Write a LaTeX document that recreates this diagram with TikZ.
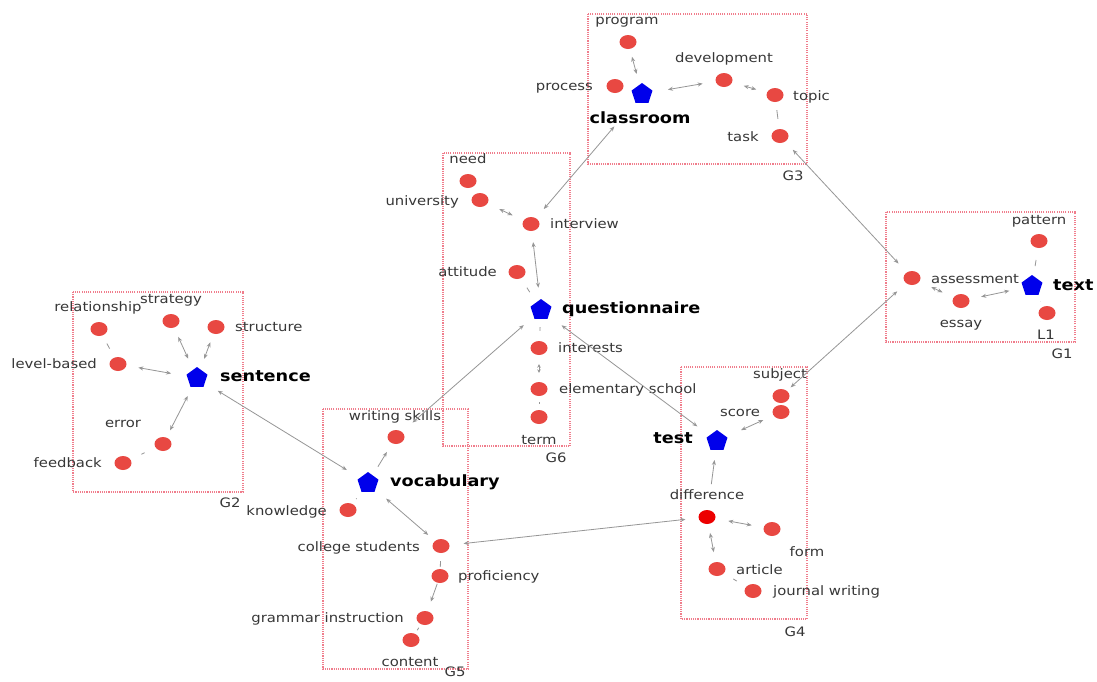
\documentclass[tikz,border=0pt]{standalone}
\usepackage{fontspec}
\setmainfont[FakeStretch=1.14]{DejaVu Sans}
\usetikzlibrary{shapes.geometric,arrows.meta}

\definecolor{dotred}{RGB}{232,72,66}
\definecolor{hotred}{RGB}{236,0,0}
\definecolor{hubblue}{RGB}{0,0,235}
\definecolor{boxred}{RGB}{240,125,140}
\definecolor{edgegray}{RGB}{150,150,150}
\definecolor{labgray}{RGB}{55,55,55}

\tikzset{
  dot/.style={ellipse, fill=dotred, minimum width=17pt, minimum height=14pt, inner sep=0pt},
  hotdot/.style={dot, fill=hotred},
  hub/.style={regular polygon, regular polygon sides=5, fill=hubblue, minimum size=22pt, inner sep=0pt},
  lab/.style={inner sep=0pt, text=labgray, text height=8.5pt, text depth=4.5pt, yshift=-2.5pt,
              font=\fontsize{13}{15}\selectfont},
  hublab/.style={inner sep=0pt, text=black, text height=9.5pt, text depth=5pt, yshift=-2.5pt,
              font=\fontsize{15.5}{18}\selectfont\bfseries},
  grp/.style={draw=boxred, line width=1.2pt, dash pattern=on 1.1pt off 1.1pt},
  ed/.style={draw=edgegray, line width=0.8pt},
  dbl/.style={ed, {Stealth[length=5pt,width=4pt]}-{Stealth[length=5pt,width=4pt]}},
  fwd/.style={ed, -{Stealth[length=5pt,width=4pt]}},
  tick/.style={ed},
}

\begin{document}
\begin{tikzpicture}[x=1pt,y=-1pt]
\useasboundingbox (0,0) rectangle (1097,681);
\clip (0,0) rectangle (1097,681);
\fill[white] (0,0) rectangle (1097,681);

% cluster frames
\draw[grp] (588,14) rectangle (807,164);
\draw[grp] (443,153) rectangle (570,446);
\draw[grp] (73,292) rectangle (243,492);
\draw[grp] (323,409) rectangle (468,669);
\draw[grp] (681,367) rectangle (807,619);
\draw[grp] (886,212) rectangle (1075,342);

\node[lab] (g3) at (793,176) {G3};
\node[lab] (g6) at (556,458) {G6};
\node[lab] (g2) at (230,503) {G2};
\node[lab] (g5) at (455,672) {G5};
\node[lab] (g4) at (795,632) {G4};
\node[lab] (g1) at (1062,354) {G1};

% G3
\node[dot] (program) at (628,42) {};
\node[dot] (process) at (615,86) {};
\node[hub] (classroom) at (642,94) {};
\node[dot] (development) at (724,80) {};
\node[dot] (topic) at (775,95) {};
\node[dot] (task) at (780,136) {};
\node[lab] (program-l) at (627,20) {program};
\node[lab, anchor=east] (process-l) at (593,86) {process};
\node[hublab] (classroom-l) at (640,119) {classroom};
\node[lab] (development-l) at (724,58) {development};
\node[lab, anchor=west] (topic-l) at (793,96) {topic};
\node[lab] (task-l) at (743,137) {task};

% G6
\node[dot] (need) at (468,181) {};
\node[dot] (university) at (480,200) {};
\node[dot] (interview) at (531,224) {};
\node[dot] (attitude) at (517,272) {};
\node[hub] (questionnaire) at (541,310) {};
\node[dot] (interests) at (539,348) {};
\node[dot] (elementary) at (539,389) {};
\node[dot] (term) at (539,417) {};
\node[lab] (need-l) at (468,159) {need};
\node[lab, anchor=east] (university-l) at (459,201) {university};
\node[lab, anchor=west] (interview-l) at (550,224) {interview};
\node[lab, anchor=east] (attitude-l) at (497,272) {attitude};
\node[hublab, anchor=west] (questionnaire-l) at (562,309) {questionnaire};
\node[lab, anchor=west] (interests-l) at (558,348) {interests};
\node[lab, anchor=west] (elementary-l) at (559,389) {elementary school};
\node[lab] (term-l) at (539,440) {term};

% G2
\node[dot] (relationship) at (99,329) {};
\node[dot] (strategy) at (171,321) {};
\node[dot] (structure) at (216,327) {};
\node[dot] (levelbased) at (118,364) {};
\node[hub] (sentence) at (197,378) {};
\node[dot] (error) at (163,444) {};
\node[dot] (feedback) at (123,463) {};
\node[lab] (relationship-l) at (98,307) {relationship};
\node[lab] (strategy-l) at (171,299) {strategy};
\node[lab, anchor=west] (structure-l) at (235,327) {structure};
\node[lab, anchor=east] (levelbased-l) at (97,364) {level-based};
\node[hublab, anchor=west] (sentence-l) at (220,377) {sentence};
\node[lab] (error-l) at (123,423) {error};
\node[lab, anchor=east] (feedback-l) at (102,463) {feedback};

% G5
\node[dot] (writing) at (396,437) {};
\node[hub] (vocabulary) at (368,483) {};
\node[dot] (knowledge) at (348,510) {};
\node[dot] (college) at (441,546) {};
\node[dot] (proficiency) at (440,576) {};
\node[dot] (grammar) at (425,618) {};
\node[dot] (content) at (411,640) {};
\node[lab] (writing-l) at (395,416) {writing skills};
\node[hublab, anchor=west] (vocabulary-l) at (390,482) {vocabulary};
\node[lab, anchor=east] (knowledge-l) at (327,511) {knowledge};
\node[lab, anchor=east] (college-l) at (420,547) {college students};
\node[lab, anchor=west] (proficiency-l) at (458,576) {proficiency};
\node[lab, anchor=east] (grammar-l) at (404,618) {grammar instruction};
\node[lab] (content-l) at (410,662) {content};

% G4
\node[dot] (subject) at (781,396) {};
\node[dot] (score) at (781,412) {};
\node[hub] (test) at (717,441) {};
\node[hotdot] (difference) at (707,517) {};
\node[dot] (form) at (772,529) {};
\node[dot] (article) at (717,569) {};
\node[dot] (journal) at (753,591) {};
\node[lab] (subject-l) at (780,374) {subject};
\node[lab] (score-l) at (740,412) {score};
\node[hublab, anchor=east] (test-l) at (693,439) {test};
\node[lab] (difference-l) at (707,495) {difference};
\node[lab] (form-l) at (807,552) {form};
\node[lab, anchor=west] (article-l) at (736,570) {article};
\node[lab, anchor=west] (journal-l) at (773,591) {journal writing};

% G1
\node[dot] (pattern) at (1039,241) {};
\node[dot] (assessment) at (912,278) {};
\node[dot] (essay) at (961,301) {};
\node[hub] (text) at (1032,286) {};
\node[dot] (L1) at (1047,313) {};
\node[lab] (pattern-l) at (1039,220) {pattern};
\node[lab, anchor=west] (assessment-l) at (931,279) {assessment};
\node[lab] (essay-l) at (961,323) {essay};
\node[hublab, anchor=west] (text-l) at (1053,286) {text};
\node[lab] (L1-l) at (1046,335) {L1};

% links inside G3
\draw[dbl, shorten <=8pt, shorten >=11pt] (program) -- (classroom);
\draw[dbl, shorten <=16pt, shorten >=13pt] (classroom) -- (development);
\draw[dbl, shorten <=12pt, shorten >=11pt] (development) -- (topic);
\draw[tick, shorten <=8pt, shorten >=10pt] (topic) -- (task);

% links inside G6
\draw[dbl, shorten <=13pt, shorten >=12pt] (university) -- (interview);
\draw[dbl, shorten <=11pt, shorten >=12pt] (interview) -- (questionnaire);
\draw[tick, shorten <=11pt, shorten >=12pt] (attitude) -- (questionnaire);
\draw[tick, shorten <=8pt, shorten >=10pt] (questionnaire) -- (interests);
\draw[ed, {Stealth[length=3.5pt,width=3.5pt]}-{Stealth[length=3.5pt,width=3.5pt]}, shorten <=9pt, shorten >=9pt] (interests) -- (elementary);
\draw[tick, shorten <=6pt, shorten >=6pt] (elementary) -- (term);

% links inside G2
\draw[dbl, shorten <=10pt, shorten >=12pt] (strategy) -- (sentence);
\draw[dbl, shorten <=9pt, shorten >=11pt] (structure) -- (sentence);
\draw[dbl, shorten <=12pt, shorten >=16pt] (levelbased) -- (sentence);
\draw[tick, shorten <=9pt, shorten >=10pt] (relationship) -- (levelbased);
\draw[dbl, shorten <=8pt, shorten >=10pt] (error) -- (sentence);
\draw[tick, shorten <=12pt, shorten >=12pt] (feedback) -- (error);

% links inside G5
\draw[fwd, shorten <=10pt, shorten >=10pt] (vocabulary) -- (writing);
\draw[tick, shorten <=8pt, shorten >=6pt] (vocabulary) -- (knowledge);
\draw[dbl, shorten <=14pt, shorten >=9pt] (vocabulary) -- (college);
\draw[tick, shorten <=8pt, shorten >=2pt] (college) -- (proficiency);
\draw[fwd, shorten <=1pt, shorten >=10pt] (proficiency) -- (grammar);
\draw[tick, shorten <=4pt, shorten >=4pt] (grammar) -- (content);

% links inside G4
\draw[dbl, shorten <=11pt, shorten >=16pt] (score) -- (test);
\draw[fwd, shorten <=26pt, shorten >=10pt] (difference) -- (test);
\draw[dbl, shorten <=13pt, shorten >=12pt] (difference) -- (form);
\draw[dbl, shorten <=9pt, shorten >=10pt] (difference) -- (article);
\draw[tick, shorten <=15pt, shorten >=15pt] (article) -- (journal);

% links inside G1
\draw[dbl, shorten <=13pt, shorten >=12pt] (assessment) -- (essay);
\draw[dbl, shorten <=12pt, shorten >=14pt] (essay) -- (text);
\draw[tick, shorten <=10pt, shorten >=12pt] (text) -- (pattern);
\draw[tick, shorten <=7pt, shorten >=6pt] (text) -- (L1);

% links between clusters
\draw[dbl, shorten <=11pt, shorten >=12pt] (task) -- (assessment);
\draw[dbl, shorten <=32pt, shorten >=12pt] (classroom) -- (interview);
\draw[dbl, shorten <=13pt, shorten >=14pt] (questionnaire) -- (writing);
\draw[dbl, shorten <=16pt, shorten >=15pt] (questionnaire) -- (test);
\draw[dbl, shorten <=15pt, shorten >=15pt] (sentence) -- (vocabulary);
\draw[dbl, shorten <=13pt, shorten >=14pt] (difference) -- (college);
\draw[dbl, shorten <=5pt, shorten >=12pt] (subject) -- (assessment);
\end{tikzpicture}
\end{document}
